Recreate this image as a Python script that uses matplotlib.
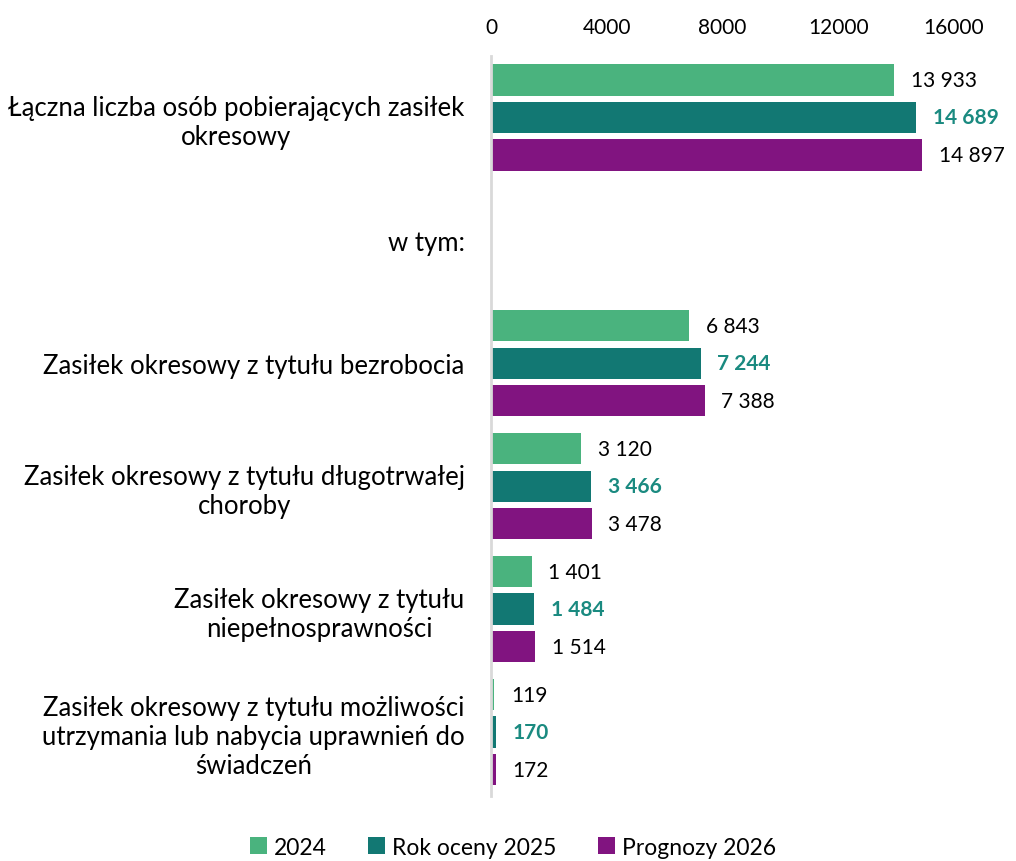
import matplotlib.pyplot as plt
import numpy as np

plt.rcParams['font.family'] = ['Lato', 'DejaVu Sans']

categories = [
    "Łączna liczba osób pobierających zasiłek\nokresowy",
    "w tym:",
    "Zasiłek okresowy z tytułu bezrobocia",
    "Zasiłek okresowy z tytułu długotrwałej\nchoroby",
    "Zasiłek okresowy z tytułu\nniepełnosprawności",
    "Zasiłek okresowy z tytułu możliwości\nutrzymania lub nabycia uprawnień do\nświadczeń",
]
v2024 = [13933, None, 6843, 3120, 1401, 119]
v2025 = [14689, None, 7244, 3466, 1484, 170]
v2026 = [14897, None, 7388, 3478, 1514, 172]
labels = ["2024", "Rok oceny 2025", "Prognozy 2026"]
colors = ["#4ab37e", "#127873", "#811480"]
ticks = [0, 4000, 8000, 12000, 16000]

fig = plt.figure(figsize=(10.16, 8.62), dpi=100)
ax = fig.add_axes([0.4833, 0.0754, 0.4557, 0.8585])

y = np.arange(len(categories))
step = 0.305
h = 0.255
series = [v2024, v2025, v2026]
for i, vals in enumerate(series):
    pos = [y[k] + (i - 1) * step for k in range(len(vals)) if vals[k] is not None]
    vv = [v for v in vals if v is not None]
    ax.barh(pos, vv, height=h, color=colors[i], label=labels[i])
    for p, v in zip(pos, vv):
        txt = f"{v:,}".replace(",", " ")
        if i == 1:
            ax.annotate(txt, (v, p), xytext=(12, 0), textcoords='offset points',
                        va='center', ha='left', fontsize=15,
                        color="#1a8a80", fontweight='bold')
        else:
            ax.annotate(txt, (v, p), xytext=(12, 0), textcoords='offset points',
                        va='center', ha='left', fontsize=15, color="black")

ax.set_ylim(5.52, -0.5)
ax.set_xlim(0, 16000)
ax.set_yticks(y)
ax.set_yticklabels(categories, fontsize=18.5, multialignment='center')
ax.set_xticks(ticks)
ax.set_xticklabels([str(t) for t in ticks], fontsize=15)
ax.xaxis.tick_top()
ax.tick_params(axis='both', length=0)
ax.tick_params(axis='y', pad=19)
ax.tick_params(axis='x', pad=13.5)
for s in ['top', 'right', 'bottom']:
    ax.spines[s].set_visible(False)
ax.spines['left'].set_color('#d9d9d9')
ax.spines['left'].set_linewidth(2)

leg = fig.legend(loc='center', bbox_to_anchor=(0.505, 0.0162), ncol=3,
                 frameon=False, fontsize=16.5, handlelength=0.75, handleheight=0.75,
                 handletextpad=0.3, columnspacing=1.8)

fig.savefig("out.png", dpi=100)
